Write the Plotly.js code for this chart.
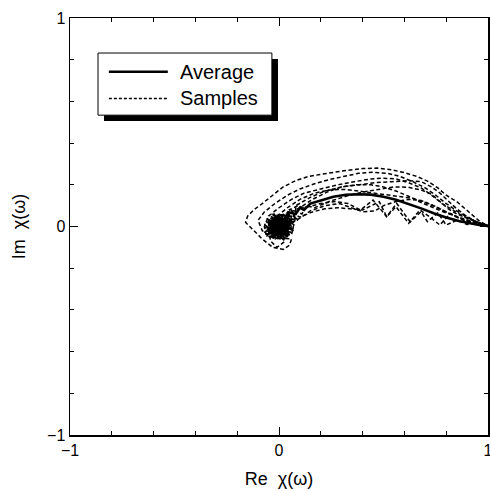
<!DOCTYPE html>
<html>
<head>
<meta charset="utf-8">
<script src="https://cdn.plot.ly/plotly-3.0.1.min.js"></script>
<style>html,body{margin:0;padding:0;background:#fff;}#plot{width:490px;height:491px;}</style>
</head>
<body>
<div id="plot"></div>
<script>
// Tick labels
const tickVals = [-1, 0, 1];
const tickText = ['\u22121', '0', '1'];

// Average curve
const avgX = [-0.01, 0.03, -0.05, 0.02, -0.03, 0.04, -0.05, 0.01, -0.02, 0.03, -0.04, 0.0, -0.04, 0.04, -0.01, -0.03, 0.02, -0.05, 0.01, -0.02, 0.04, -0.04, 0.0, -0.03, 0.03, -0.01, 0.02, -0.04, 0.01, 0.03, 0.05, 0.04, 0.08, 0.10, 0.12, 0.15, 0.20, 0.26, 0.32, 0.38, 0.44, 0.50, 0.56, 0.62, 0.68, 0.74, 0.80, 0.86, 0.92, 0.97, 1.0];
const avgY = [0.0, -0.03, 0.02, 0.04, -0.04, 0.01, -0.01, -0.04, 0.03, 0.02, -0.02, 0.04, -0.03, -0.02, -0.03, 0.03, -0.01, 0.01, 0.02, -0.04, 0.03, 0.0, -0.02, 0.02, -0.03, 0.04, 0.0, -0.03, -0.01, 0.04, 0.05, 0.07, 0.06, 0.09, 0.08, 0.11, 0.125, 0.143, 0.152, 0.155, 0.153, 0.143, 0.128, 0.108, 0.087, 0.064, 0.043, 0.026, 0.013, 0.005, 0.002];

// Samples
const s1x = [0.01, -0.05, 0.04, -0.03, 0.06, -0.07, 0.0, 0.05, -0.02, 0.03, -0.06, 0.02, -0.04, 0.06, 0.05, 0.02, -0.03, -0.08, -0.12, -0.16, -0.15, -0.12, -0.08, -0.03, 0.02, 0.08, 0.14, 0.20, 0.26, 0.33, 0.40, 0.47, 0.54, 0.60, 0.66, 0.71, 0.76, 0.80, 0.85, 0.89, 0.93, 0.96, 0.99, 1.0];
const s1y = [0.0, -0.03, -0.05, 0.04, 0.02, -0.01, 0.05, -0.03, -0.06, 0.03, 0.02, -0.02, -0.05, -0.06, -0.09, -0.11, -0.10, -0.06, -0.02, 0.02, 0.05, 0.08, 0.11, 0.15, 0.19, 0.22, 0.24, 0.25, 0.26, 0.27, 0.278, 0.28, 0.272, 0.258, 0.24, 0.218, 0.185, 0.15, 0.12, 0.085, 0.05, 0.025, 0.008, 0.002];

const s2x = [-0.01, 0.04, -0.06, 0.02, 0.05, -0.03, 0.0, -0.07, 0.03, -0.04, 0.06, -0.02, 0.01, -0.04, -0.08, -0.10, -0.07, -0.02, 0.04, 0.10, 0.17, 0.24, 0.31, 0.38, 0.45, 0.52, 0.58, 0.64, 0.70, 0.75, 0.80, 0.85, 0.90, 0.95, 1.0];
const s2y = [0.01, -0.04, 0.0, 0.05, -0.01, -0.05, 0.03, -0.03, 0.06, 0.04, 0.03, -0.03, -0.06, -0.05, -0.02, 0.03, 0.07, 0.11, 0.15, 0.18, 0.205, 0.225, 0.24, 0.255, 0.26, 0.255, 0.24, 0.215, 0.185, 0.15, 0.11, 0.075, 0.045, 0.02, 0.005];

const s3x = [0.0, -0.04, 0.05, -0.03, 0.06, -0.07, 0.02, 0.03, -0.05, 0.0, 0.07, -0.02, -0.06, -0.07, -0.05, 0.0, 0.06, 0.12, 0.20, 0.28, 0.36, 0.44, 0.50, 0.56, 0.62, 0.68, 0.73, 0.78, 0.83, 0.88, 0.93, 0.97, 1.0];
const s3y = [-0.01, 0.04, -0.03, -0.04, 0.03, 0.01, -0.06, 0.05, -0.02, 0.06, -0.01, 0.02, -0.05, 0.0, 0.05, 0.09, 0.13, 0.16, 0.18, 0.20, 0.215, 0.228, 0.232, 0.228, 0.21, 0.185, 0.15, 0.11, 0.08, 0.05, 0.03, 0.012, 0.003];

const s4x = [0.02, -0.03, 0.05, -0.06, 0.04, -0.01, 0.07, -0.05, 0.01, -0.03, 0.06, 0.03, -0.02, 0.08, 0.06, 0.10, 0.16, 0.23, 0.30, 0.37, 0.44, 0.50, 0.56, 0.62, 0.68, 0.74, 0.80, 0.86, 0.92, 0.97, 1.0];
const s4y = [0.02, -0.02, -0.05, 0.02, -0.01, 0.05, 0.02, -0.05, -0.03, 0.06, 0.05, -0.06, 0.01, 0.04, 0.07, 0.09, 0.13, 0.165, 0.19, 0.20, 0.20, 0.19, 0.17, 0.145, 0.115, 0.09, 0.065, 0.045, 0.025, 0.01, 0.003];

const s5x = [-0.02, 0.04, 0.0, -0.06, 0.03, -0.03, 0.07, -0.05, 0.02, 0.05, -0.01, 0.08, 0.06, 0.11, 0.13, 0.17, 0.24, 0.32, 0.40, 0.48, 0.55, 0.62, 0.68, 0.73, 0.77, 0.81, 0.85, 0.90, 0.95, 1.0];
const s5y = [0.0, 0.03, -0.05, -0.02, -0.06, 0.04, -0.02, 0.03, 0.02, 0.06, -0.03, 0.03, 0.08, 0.06, 0.10, 0.09, 0.12, 0.145, 0.165, 0.18, 0.19, 0.188, 0.175, 0.155, 0.12, 0.085, 0.06, 0.04, 0.02, 0.005];

const s6x = [0.01, -0.05, 0.04, -0.03, 0.0, 0.06, -0.06, 0.03, -0.02, 0.07, -0.04, 0.02, 0.09, 0.07, 0.10, 0.16, 0.22, 0.28, 0.34, 0.40, 0.48, 0.515, 0.56, 0.62, 0.68, 0.71, 0.76, 0.80, 0.85, 0.90, 0.95, 1.0];
const s6y = [-0.03, 0.01, 0.03, -0.06, 0.02, -0.03, 0.04, -0.05, 0.05, 0.01, -0.02, 0.04, 0.03, 0.06, 0.045, 0.07, 0.085, 0.09, 0.085, 0.079, 0.119, 0.047, 0.095, 0.015, 0.071, 0.023, 0.065, 0.007, 0.03, 0.01, 0.015, 0.0];

const s7x = [-0.03, 0.03, -0.01, 0.05, -0.06, 0.01, 0.04, -0.04, 0.02, -0.02, 0.06, 0.08, 0.05, 0.09, 0.12, 0.20, 0.27, 0.33, 0.39, 0.45, 0.515, 0.563, 0.627, 0.675, 0.72, 0.77, 0.82, 0.88, 0.93, 0.97, 1.0];
const s7y = [0.02, 0.0, -0.06, 0.04, -0.01, -0.03, 0.06, 0.05, 0.01, -0.04, -0.04, 0.05, 0.08, 0.10, 0.09, 0.11, 0.12, 0.11, 0.079, 0.127, 0.047, 0.111, 0.023, 0.079, 0.047, 0.007, 0.063, 0.031, 0.02, 0.008, 0.002];

const s8x = [0.0, 0.05, -0.05, 0.03, -0.06, 0.02, 0.06, -0.03, 0.04, -0.02, 0.07, 0.03, 0.05, 0.10, 0.15, 0.22, 0.29, 0.35, 0.40, 0.46, 0.50, 0.56, 0.62, 0.68, 0.74, 0.80, 0.86, 0.92, 0.97, 1.0];
const s8y = [0.03, -0.04, 0.01, 0.03, -0.04, -0.02, 0.01, -0.05, 0.06, 0.04, -0.02, 0.02, 0.01, 0.04, 0.075, 0.10, 0.11, 0.09, 0.071, 0.075, 0.10, 0.12, 0.13, 0.125, 0.10, 0.07, 0.04, 0.02, 0.008, 0.0];

const s9x = [0.01, -0.03, 0.05, -0.02, 0.04, -0.06, 0.03, -0.01, -0.04, -0.05, -0.02, 0.04, 0.10, 0.17, 0.24, 0.31, 0.38, 0.45, 0.52, 0.58, 0.64, 0.70, 0.76, 0.82, 0.88, 0.94, 1.0];
const s9y = [0.01, -0.03, -0.04, 0.04, 0.02, 0.0, -0.07, -0.10, -0.07, -0.02, 0.04, 0.09, 0.13, 0.16, 0.175, 0.178, 0.17, 0.16, 0.15, 0.145, 0.135, 0.115, 0.09, 0.06, 0.035, 0.015, 0.003];

const s10x = [-0.01, 0.04, -0.05, 0.0, 0.05, -0.04, 0.02, -0.06, 0.06, 0.03, 0.08, 0.08, 0.15, 0.22, 0.30, 0.38, 0.46, 0.54, 0.62, 0.68, 0.73, 0.77, 0.81, 0.85, 0.89, 0.93, 0.97, 1.0];
const s10y = [-0.02, 0.01, 0.03, -0.05, -0.02, -0.01, 0.05, -0.04, 0.04, -0.03, 0.07, 0.10, 0.14, 0.17, 0.19, 0.20, 0.21, 0.215, 0.22, 0.215, 0.19, 0.16, 0.12, 0.085, 0.055, 0.03, 0.012, 0.003];

const sampleXs = [s1x, s2x, s3x, s4x, s5x, s6x, s7x, s8x, s9x, s10x];
const sampleYs = [s1y, s2y, s3y, s4y, s5y, s6y, s7y, s8y, s9y, s10y];

const dashStyle = '4px,2.5px';
const traces = [];
sampleXs.forEach((xs, i) => {
  traces.push({
    x: xs, y: sampleYs[i], type: 'scatter', mode: 'lines',
    line: {color: 'black', width: 1.5, dash: dashStyle},
    showlegend: false, hoverinfo: 'skip'
  });
});
traces.push({
  x: avgX, y: avgY, type: 'scatter', mode: 'lines',
  line: {color: 'black', width: 2.6},
  showlegend: false, hoverinfo: 'skip'
});

const fontFam = '"Liberation Sans", Arial, Helvetica, sans-serif';
const axisCommon = {
  range: [-1, 1], tickmode: 'array', tickvals: tickVals, ticktext: tickText,
  ticks: 'inside', ticklen: 8, tickwidth: 1, tickcolor: 'black',
  minor: {ticks: 'inside', ticklen: 4, dtick: 0.2, tick0: 0, tickcolor: 'black', tickwidth: 1},
  showline: true, linecolor: 'black', linewidth: 1.5, mirror: 'ticks',
  showgrid: false, zeroline: false, fixedrange: true,
  ticklabeloverflow: 'allow',
  tickfont: {family: fontFam, size: 16, color: 'black'}
};

const layout = {
  width: 490, height: 491,
  margin: {l: 70, r: 2, t: 18, b: 56},
  paper_bgcolor: 'white', plot_bgcolor: 'white',
  showlegend: false,
  xaxis: Object.assign({}, axisCommon, {
    title: {text: 'Re\u00a0\u00a0\u03c7(\u03c9)', font: {family: fontFam, size: 18, color: 'black'}, standoff: 14}
  }),
  yaxis: Object.assign({}, axisCommon, {
    title: {text: 'Im\u00a0\u00a0\u03c7(\u03c9)', font: {family: fontFam, size: 18, color: 'black'}, standoff: 16}
  }),
  shapes: [
    {type: 'rect', xref: 'paper', yref: 'paper', x0: 0.0813, x1: 0.4976, y0: 0.753, y1: 0.9017, fillcolor: 'black', line: {width: 0}},
    {type: 'rect', xref: 'paper', yref: 'paper', x0: 0.067, x1: 0.483, y0: 0.767, y1: 0.916, fillcolor: 'white', line: {color: 'black', width: 1}},
    {type: 'line', xref: 'paper', yref: 'paper', x0: 0.093, x1: 0.234, y0: 0.871, y1: 0.871, line: {color: 'black', width: 2.6}},
    {type: 'line', xref: 'paper', yref: 'paper', x0: 0.093, x1: 0.234, y0: 0.807, y1: 0.807, line: {color: 'black', width: 1.5, dash: '3px,2px'}}
  ],
  annotations: [
    {xref: 'paper', yref: 'paper', x: 0.258, y: 0.871, xanchor: 'left', yanchor: 'middle', text: 'Average', showarrow: false, font: {family: fontFam, size: 20, color: 'black'}},
    {xref: 'paper', yref: 'paper', x: 0.258, y: 0.807, xanchor: 'left', yanchor: 'middle', text: 'Samples', showarrow: false, font: {family: fontFam, size: 20, color: 'black'}}
  ]
};

Plotly.newPlot('plot', traces, layout, {displayModeBar: false, staticPlot: true});
</script>
</body>
</html>
